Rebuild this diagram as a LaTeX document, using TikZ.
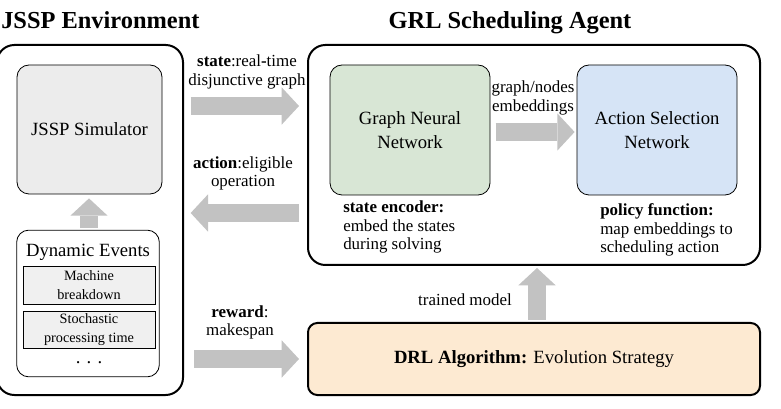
\documentclass[tikz,border=0pt]{standalone}
\usepackage{fontspec}
\setmainfont{Liberation Serif}
\usetikzlibrary{arrows.meta,positioning}

\definecolor{simgray}{RGB}{236,236,236}
\definecolor{evgray}{RGB}{240,240,240}
\definecolor{gnngreen}{RGB}{216,230,213}
\definecolor{asnblue}{RGB}{214,228,246}
\definecolor{drlpeach}{RGB}{253,234,210}
\definecolor{arrowgray}{RGB}{194,194,194}

\tikzset{
  maintext/.style={font=\rmfamily\fontsize{14}{18}\selectfont},
  labeltext/.style={font=\rmfamily\fontsize{12.7}{13.6}\selectfont, inner sep=0pt},
  titletext/.style={font=\rmfamily\fontsize{18.3}{20}\selectfont\bfseries, inner sep=0pt},
  bigbox/.style={draw, line width=1.5pt, rounded corners=13pt},
  modbox/.style={draw, line width=0.6pt, rounded corners=9pt, align=center, maintext, inner sep=0pt},
  evbox/.style={draw, line width=0.6pt, fill=evgray, align=center, font=\rmfamily\fontsize{10.7}{14.2}\selectfont,
                minimum width=99pt, minimum height=28pt, inner sep=0pt},
  flowarrow/.style={draw=arrowgray, line width=13.5pt, -{Triangle[length=13pt,width=28pt,line width=0pt]}}
}

\begin{document}
\begin{tikzpicture}[x=0.75pt,y=-0.75pt]
    \useasboundingbox (0,0) rectangle (781,409);

    \coordinate (stateline) at (0,106);
    \coordinate (actline)   at (0,213);
    \coordinate (rewline)   at (0,359);
    \coordinate (embline)   at (0,132);
    \coordinate (upline)    at (89,0);
    \coordinate (trainline) at (537,0);

    % titles
    \node [titletext, anchor=base west] (envtitle)   at (1,29) {JSSP Environment};
    \node [titletext, anchor=base]      (agenttitle) at (510,29) {GRL Scheduling Agent};

    % environment
    \node [bigbox, minimum width=139.5pt, minimum height=262.5pt] (env) at (90,220) {};
    \node [modbox, fill=simgray, minimum width=108.75pt, minimum height=96.75pt] (sim) at (89.5,129.5) {JSSP Simulator};
    \node [modbox, fill=white, minimum width=107pt, minimum height=110pt] (dyn) at (88,303.5) {};
    \node [maintext] (dyntitle) at (88,252) {Dynamic Events};
    \node [evbox] (breakdown) at (89,285.5) {Machine\\breakdown};
    \node [evbox] (stoch)     at (89,330) {Stochastic\\processing time};
    \node [maintext, inner sep=0pt] (more) at (89,363) {.\,\,.\,\,.};

    % agent
    \node [bigbox, minimum width=339pt, minimum height=165pt] (agent) at (534,155) {};
    \node [modbox, fill=gnngreen, minimum width=120pt, minimum height=97.5pt] (gnn) at (410,130) {Graph Neural\\Network};
    \node [modbox, fill=asnblue,  minimum width=120pt, minimum height=97.5pt] (asn) at (657,130) {Action Selection\\Network};
    \node [labeltext, align=left, anchor=west] (enclabel) at (343,227) {\textbf{state encoder:}\\embed the states\\during solving};
    \node [labeltext, align=left, anchor=west] (pollabel) at (600,230) {\textbf{policy function:}\\map embeddings to\\scheduling action};

    % training
    \node [bigbox, rounded corners=7pt, fill=drlpeach, maintext, minimum width=339pt, minimum height=54pt] (drl) at (534,359)
          {\textbf{DRL Algorithm:} Evolution Strategy};

    % labels
    \node [labeltext, align=center] (statelabel) at (247,72)  {\textbf{state}:real\textbf{-}time\\disjunctive graph};
    \node [labeltext, align=center] (actlabel)   at (243,173) {\textbf{action}:eligible\\operation};
    \node [labeltext, align=center] (rewlabel)   at (240,322) {\textbf{reward}:\\makespan};
    \node [labeltext, align=center] (emblabel)   at (533,98)  {graph/nodes\\embeddings};
    \node [labeltext] (trainlabel) at (465,300) {trained model};

    % arrows
    \draw [flowarrow, shorten <=5pt, shorten >=6pt]   (env.east |- stateline) -- (agent.west |- stateline);
    \draw [flowarrow, shorten <=6pt, shorten >=5pt]   (agent.west |- actline) -- (env.east |- actline);
    \draw [flowarrow, shorten <=7.5pt, shorten >=6pt] (env.east |- rewline) -- (drl.west |- rewline);
    \draw [flowarrow, shorten <=4pt, shorten >=1.5pt] (gnn.east |- embline) -- (asn.west |- embline);
    \draw [flowarrow, shorten <=1.5pt, shorten >=1.5pt] (drl.north -| trainline) -- (agent.south -| trainline);
    \draw [flowarrow, shorten <=1.5pt, shorten >=3pt] (dyn.north -| upline) -- (sim.south -| upline);
\end{tikzpicture}
\end{document}
